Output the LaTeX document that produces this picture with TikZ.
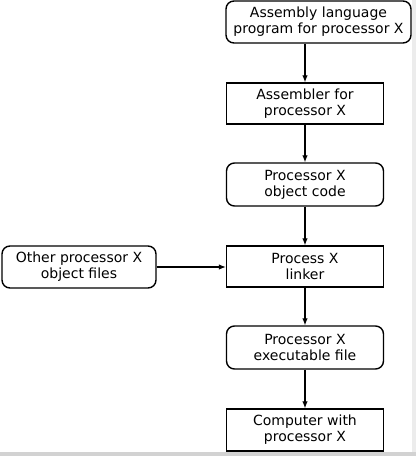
\documentclass[tikz,border=0pt]{standalone}
\usepackage{fontspec}
\setmainfont{DejaVu Sans}
\usetikzlibrary{arrows.meta}
\begin{document}
\begin{tikzpicture}[x=1pt,y=-1pt,
  box/.style={draw, line width=1.4pt, minimum width=157pt, minimum height=41pt, align=center, font=\fontsize{14}{16}\selectfont, inner sep=0pt},
  rbox/.style={box, rounded corners=8pt},
  arr/.style={-{Latex[length=7pt,width=5.5pt]}, line width=1.1pt}]
\useasboundingbox (0,0) rectangle (416,456);
\fill[white] (0,0) rectangle (416,456);
\fill[gray!15] (412,0) rectangle (416,456);
\fill[gray!35] (0,452) rectangle (416,456);
\node[rbox, minimum width=185pt, minimum height=42pt] (a) at (318.5,22) {Assembly language\\program for processor X};
\node[box] (b) at (305,103.5) {Assembler for\\processor X};
\node[rbox, minimum height=43pt] (c) at (305,184.5) {Processor X\\object code};
\node[box] (d) at (305,266.5) {Process X\\linker};
\node[rbox, minimum width=154pt, minimum height=42pt] (e) at (79,267) {Other processor X\\object files};
\node[rbox, minimum height=43pt] (f) at (305,347.5) {Processor X\\executable file};
\node[box, minimum height=42pt] (g) at (305,430) {Computer with\\processor X};
\draw[arr] (a.south -| b.north) -- (b.north);
\draw[arr] (b) -- (c);
\draw[arr] (c) -- (d);
\draw[arr] (e.east) -- (e.east -| d.west);
\draw[arr] (d) -- (f);
\draw[arr] (f) -- (g);
\end{tikzpicture}
\end{document}
